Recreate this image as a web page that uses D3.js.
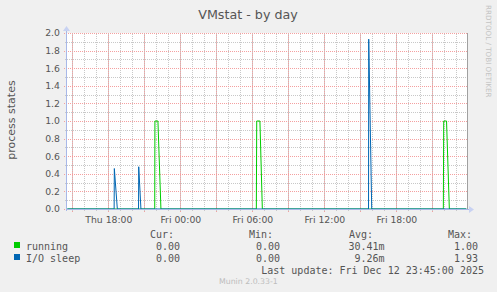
<!DOCTYPE html>
<html>
<head>
<meta charset="utf-8">
<script src="https://cdn.jsdelivr.net/npm/d3@7"></script>
<style>
body { margin: 0; background: #f0f0f0; }
svg { display: block; }
</style>
</head>
<body>
<svg width="497" height="292"></svg>
<script>
// time window of the "by day" graph (400 px, 5 min per px)
var startTime = "2025-12-11 14:33:20",
    endTime = "2025-12-12 23:53:20";

// samples, [time, value]
var running = [
    ["2025-12-11 14:35", 0], ["2025-12-11 21:52", 0], ["2025-12-11 21:53", 1.0],
    ["2025-12-11 22:08", 1.0], ["2025-12-11 22:23", 0],
    ["2025-12-12 06:20", 0], ["2025-12-12 06:22", 1.0], ["2025-12-12 06:38", 1.0],
    ["2025-12-12 06:50", 0],
    ["2025-12-12 21:55", 0], ["2025-12-12 21:57", 1.0], ["2025-12-12 22:11", 1.0],
    ["2025-12-12 22:25", 0], ["2025-12-12 23:50", 0]
];
var ioSleep = [
    ["2025-12-11 14:35", 0], ["2025-12-11 18:29", 0], ["2025-12-11 18:30", 0.46],
    ["2025-12-11 18:45", 0],
    ["2025-12-11 20:31", 0], ["2025-12-11 20:32", 0.48], ["2025-12-11 20:43", 0],
    ["2025-12-12 15:41", 0], ["2025-12-12 15:42", 1.93], ["2025-12-12 15:57", 0],
    ["2025-12-12 23:50", 0]
];

var yTicks = [0, 0.2, 0.4, 0.6, 0.8, 1.0, 1.2, 1.4, 1.6, 1.8, 2.0];
var yMinor = [0.1, 0.3, 0.5, 0.7, 0.9, 1.1, 1.3, 1.5, 1.7, 1.9];

// legend
var seriesNames = ["running", "I/O sleep"],
    seriesColors = ["#00cc00", "#0066b3"],
    colHeaders = ["Cur:", "Min:", "Avg:", "Max:"],
    curValues = ["0.00", "0.00"],
    minValues = ["0.00", "0.00"],
    avgValues = ["30.41m", "9.26m"],
    maxValues = ["1.00", "1.93"],
    lastUpdate = "Last update: Fri Dec 12 23:45:00 2025";

var svg = d3.select("svg"),
    margin = {top: 33, right: 30, bottom: 83, left: 67},
    width = 400,
    height = 176,
    g = svg.append("g").attr("transform", "translate(" + margin.left + "," + margin.top + ")");

var parseFull = d3.timeParse("%Y-%m-%d %H:%M:%S"),
    parseTime = d3.timeParse("%Y-%m-%d %H:%M");

var x = d3.scaleTime().domain([parseFull(startTime), parseFull(endTime)]).range([0, width]),
    y = d3.scaleLinear().domain([0, 2]).range([height, 0]);

var textColor = "#555",
    sans = "'DejaVu Sans', sans-serif",
    mono = "'DejaVu Sans Mono', monospace";

svg.append("rect").attr("width", 497).attr("height", 292).attr("fill", "#f0f0f0");
svg.node().appendChild(g.node()); // keep plot above background

// canvas
g.append("rect")
    .attr("width", width)
    .attr("height", height)
    .attr("fill", "#fff");

function styleGrid(sel, color) {
    sel.select(".domain").remove();
    sel.selectAll(".tick line")
        .attr("stroke", color)
        .attr("stroke-dasharray", "1,1")
        .attr("shape-rendering", "crispEdges");
}

// minor gridlines
g.append("g")
    .attr("transform", "translate(0," + (height + 2) + ")")
    .call(d3.axisBottom(x).ticks(d3.timeHour.every(1)).tickSize(-(height + 2)).tickFormat(""))
    .call(styleGrid, "#c8c8c8");
g.append("g")
    .attr("transform", "translate(-2,0)")
    .call(d3.axisLeft(y).tickValues(yMinor).tickSize(-(width + 2)).tickFormat(""))
    .call(styleGrid, "#c8c8c8");

// major gridlines
g.append("g")
    .attr("transform", "translate(0," + (height + 3) + ")")
    .call(d3.axisBottom(x).ticks(d3.timeHour.every(3)).tickSize(-(height + 3)).tickFormat(""))
    .call(styleGrid, "#f4a0a0");
g.append("g")
    .attr("transform", "translate(-3,0)")
    .call(d3.axisLeft(y).tickValues(yTicks).tickSize(-(width + 3)).tickFormat(""))
    .call(styleGrid, "#f4a0a0");

// right frame
g.append("line")
    .attr("x1", width + 0.5).attr("x2", width + 0.5)
    .attr("y1", 0).attr("y2", height)
    .attr("stroke", "#a0a0a0");

// data lines
var line = d3.line()
    .x(function (d) { return x(parseTime(d[0])); })
    .y(function (d) { return y(d[1]); });

[running, ioSleep].forEach(function (s, i) {
    g.append("path")
        .datum(s)
        .attr("fill", "none")
        .attr("stroke", seriesColors[i])
        .attr("stroke-width", 1)
        .attr("d", line);
});

// axes
var axisColor = "#a8b8e8";
g.append("line")
    .attr("x1", 0).attr("x2", width + 3)
    .attr("y1", height + 0.5).attr("y2", height + 0.5)
    .attr("stroke", axisColor);
g.append("line")
    .attr("x1", -0.5).attr("x2", -0.5)
    .attr("y1", height + 2).attr("y2", -4)
    .attr("stroke", axisColor);
g.append("path")
    .attr("d", "M" + (width + 2) + "," + (height - 3) + "L" + (width + 7) + "," + (height + 0.5) + "L" + (width + 2) + "," + (height + 4) + "Z")
    .attr("fill", "#c8d2f2");
g.append("path")
    .attr("d", "M-4,-2L-0.5,-7L3,-2Z")
    .attr("fill", "#c8d2f2");

// tick labels
var xAxis = g.append("g")
    .attr("transform", "translate(0," + height + ")")
    .call(d3.axisBottom(x).ticks(d3.timeHour.every(6)).tickSize(0).tickPadding(7)
        .tickFormat(d3.timeFormat("%a %H:%M")));
xAxis.select(".domain").remove();
xAxis.selectAll("text")
    .attr("fill", textColor)
    .style("font", "9.3px " + sans);

var yAxis = g.append("g")
    .call(d3.axisLeft(y).tickValues(yTicks).tickSize(0).tickPadding(7).tickFormat(d3.format(".1f")));
yAxis.select(".domain").remove();
yAxis.selectAll("text")
    .attr("fill", textColor)
    .style("font", "9.3px " + sans);

// title and labels
svg.append("text")
    .attr("x", 248).attr("y", 18.5)
    .attr("text-anchor", "middle")
    .attr("fill", textColor)
    .style("font", "12.7px " + sans)
    .text("VMstat - by day");

svg.append("text")
    .attr("transform", "translate(15," + 120 + ")rotate(-90)")
    .attr("text-anchor", "middle")
    .attr("fill", textColor)
    .style("font", "11px " + sans)
    .text("process states");

svg.append("text")
    .attr("transform", "translate(486,5)rotate(90)")
    .attr("fill", "#c4c4c4")
    .style("font", "7.2px " + sans)
    .text("RRDTOOL / TOBI OETIKER");

svg.append("text")
    .attr("x", 219).attr("y", 284)
    .attr("fill", "#bdbdbd")
    .style("font", "7.8px " + sans)
    .text("Munin 2.0.33-1");

// legend
var legend = svg.append("g").style("font", "10px " + mono).attr("fill", textColor);
var headerX = [150, 249, 349, 448],
    valueX = [180, 280, 384.5, 478];

legend.selectAll(".hdr")
    .data(colHeaders)
    .enter().append("text")
    .attr("class", "hdr")
    .attr("x", function (d, i) { return headerX[i]; })
    .attr("y", 237.5)
    .text(function (d) { return d; });

var rows = legend.selectAll(".row")
    .data(seriesNames)
    .enter().append("g")
    .attr("class", "row")
    .attr("transform", function (d, i) { return "translate(0," + (249.5 + i * 12) + ")"; });

rows.append("rect")
    .attr("x", 14).attr("y", -7.5)
    .attr("width", 6).attr("height", 6)
    .attr("fill", function (d, i) { return seriesColors[i]; });

rows.append("text")
    .attr("x", 26)
    .text(function (d) { return d; });

[curValues, minValues, avgValues, maxValues].forEach(function (vals, c) {
    rows.append("text")
        .attr("x", valueX[c])
        .attr("text-anchor", "end")
        .text(function (d, i) { return vals[i]; });
});

legend.append("text")
    .attr("x", 484).attr("y", 273.5)
    .attr("text-anchor", "end")
    .text(lastUpdate);
</script>
</body>
</html>
